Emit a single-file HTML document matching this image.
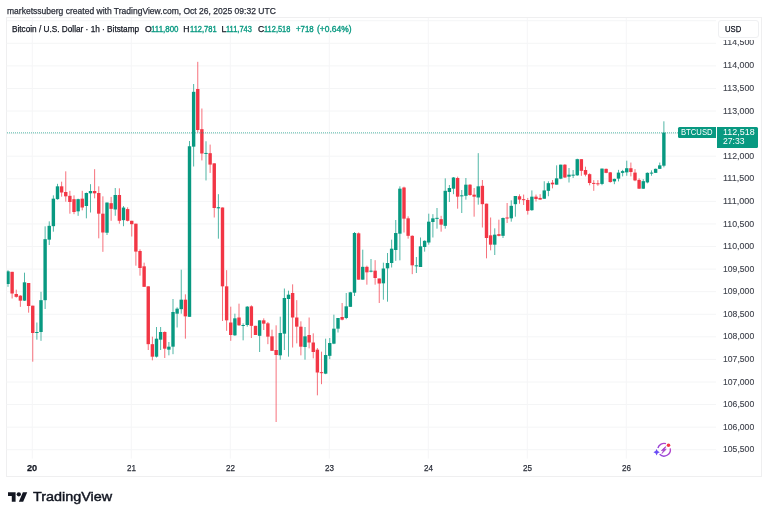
<!DOCTYPE html>
<html><head><meta charset="utf-8"><style>
html,body{margin:0;padding:0;background:#fff;}
body{will-change:transform;width:768px;height:517px;position:relative;overflow:hidden;font-family:"Liberation Sans",sans-serif;color:#131722;}
.t{position:absolute;white-space:nowrap;transform-origin:0 0;-webkit-text-stroke:0.25px currentColor;}
#frame{position:absolute;left:5.8px;top:17.2px;width:756.2px;height:460.3px;border:1px solid #efeff0;box-sizing:border-box;}
#usd{position:absolute;left:718.4px;top:20.4px;width:40.3px;height:17.9px;box-sizing:border-box;border:1px solid #eff0f2;border-radius:3px;background:#fff;}
#tag1{position:absolute;left:678px;top:127px;width:38px;height:11.25px;background:#089981;border-radius:1.5px 0 0 1.5px;}
#tag2{position:absolute;left:717px;top:127px;width:41px;height:20.75px;background:#089981;border-radius:0 1.5px 1.5px 0;}
</style></head><body>
<div id="frame"></div>
<svg width="768" height="517" style="position:absolute;left:0;top:0">
<defs><clipPath id="pane"><rect x="6.7" y="18" width="710" height="441"/></clipPath></defs><line x1="6.5" y1="449.74" x2="716" y2="449.74" stroke="#f4f5f6" stroke-width="1"/><line x1="6.5" y1="427.16" x2="716" y2="427.16" stroke="#f4f5f6" stroke-width="1"/><line x1="6.5" y1="404.58" x2="716" y2="404.58" stroke="#f4f5f6" stroke-width="1"/><line x1="6.5" y1="382.00" x2="716" y2="382.00" stroke="#f4f5f6" stroke-width="1"/><line x1="6.5" y1="359.42" x2="716" y2="359.42" stroke="#f4f5f6" stroke-width="1"/><line x1="6.5" y1="336.84" x2="716" y2="336.84" stroke="#f4f5f6" stroke-width="1"/><line x1="6.5" y1="314.26" x2="716" y2="314.26" stroke="#f4f5f6" stroke-width="1"/><line x1="6.5" y1="291.68" x2="716" y2="291.68" stroke="#f4f5f6" stroke-width="1"/><line x1="6.5" y1="269.10" x2="716" y2="269.10" stroke="#f4f5f6" stroke-width="1"/><line x1="6.5" y1="246.52" x2="716" y2="246.52" stroke="#f4f5f6" stroke-width="1"/><line x1="6.5" y1="223.94" x2="716" y2="223.94" stroke="#f4f5f6" stroke-width="1"/><line x1="6.5" y1="201.36" x2="716" y2="201.36" stroke="#f4f5f6" stroke-width="1"/><line x1="6.5" y1="178.78" x2="716" y2="178.78" stroke="#f4f5f6" stroke-width="1"/><line x1="6.5" y1="156.20" x2="716" y2="156.20" stroke="#f4f5f6" stroke-width="1"/><line x1="6.5" y1="133.62" x2="716" y2="133.62" stroke="#f4f5f6" stroke-width="1"/><line x1="6.5" y1="111.04" x2="716" y2="111.04" stroke="#f4f5f6" stroke-width="1"/><line x1="6.5" y1="88.46" x2="716" y2="88.46" stroke="#f4f5f6" stroke-width="1"/><line x1="6.5" y1="65.88" x2="716" y2="65.88" stroke="#f4f5f6" stroke-width="1"/><line x1="6.5" y1="43.30" x2="716" y2="43.30" stroke="#f4f5f6" stroke-width="1"/><line x1="6.5" y1="20.72" x2="716" y2="20.72" stroke="#f4f5f6" stroke-width="1"/><line x1="32.30" y1="18" x2="32.30" y2="458.6" stroke="#f5f6f7" stroke-width="1"/><line x1="131.30" y1="18" x2="131.30" y2="458.6" stroke="#f5f6f7" stroke-width="1"/><line x1="230.30" y1="18" x2="230.30" y2="458.6" stroke="#f5f6f7" stroke-width="1"/><line x1="329.30" y1="18" x2="329.30" y2="458.6" stroke="#f5f6f7" stroke-width="1"/><line x1="428.30" y1="18" x2="428.30" y2="458.6" stroke="#f5f6f7" stroke-width="1"/><line x1="527.30" y1="18" x2="527.30" y2="458.6" stroke="#f5f6f7" stroke-width="1"/><line x1="626.30" y1="18" x2="626.30" y2="458.6" stroke="#f5f6f7" stroke-width="1"/><g clip-path="url(#pane)"><rect x="7.50" y="270.17" width="1" height="16.67" fill="#089981" opacity="0.7"/><rect x="6.30" y="271.33" width="3.4" height="12.67" fill="#089981"/><rect x="11.62" y="271.83" width="1" height="26.67" fill="#f23645" opacity="0.7"/><rect x="10.42" y="271.83" width="3.4" height="21.67" fill="#f23645"/><rect x="15.75" y="289.67" width="1" height="8.00" fill="#f23645" opacity="0.7"/><rect x="14.55" y="294.00" width="3.4" height="2.83" fill="#f23645"/><rect x="19.87" y="295.17" width="1" height="11.67" fill="#f23645" opacity="0.7"/><rect x="18.67" y="295.67" width="3.4" height="5.00" fill="#f23645"/><rect x="24.00" y="272.67" width="1" height="28.33" fill="#089981" opacity="0.7"/><rect x="22.80" y="282.33" width="3.4" height="18.33" fill="#089981"/><rect x="28.12" y="283.00" width="1" height="29.67" fill="#f23645" opacity="0.7"/><rect x="26.92" y="283.00" width="3.4" height="23.00" fill="#f23645"/><rect x="32.25" y="305.67" width="1" height="56.00" fill="#f23645" opacity="0.7"/><rect x="31.05" y="305.67" width="3.4" height="27.33" fill="#f23645"/><rect x="36.38" y="322.50" width="1" height="17.17" fill="#089981" opacity="0.7"/><rect x="35.17" y="332.00" width="3.4" height="1.00" fill="#089981"/><rect x="40.50" y="291.83" width="1" height="49.00" fill="#089981" opacity="0.7"/><rect x="39.30" y="300.17" width="3.4" height="31.83" fill="#089981"/><rect x="44.62" y="226.33" width="1" height="82.67" fill="#089981" opacity="0.7"/><rect x="43.42" y="239.17" width="3.4" height="61.00" fill="#089981"/><rect x="48.75" y="221.33" width="1" height="23.67" fill="#089981" opacity="0.7"/><rect x="47.55" y="225.83" width="3.4" height="13.83" fill="#089981"/><rect x="52.88" y="195.33" width="1" height="36.33" fill="#089981" opacity="0.7"/><rect x="51.67" y="198.67" width="3.4" height="27.50" fill="#089981"/><rect x="57.00" y="183.83" width="1" height="15.83" fill="#089981" opacity="0.7"/><rect x="55.80" y="186.33" width="3.4" height="12.83" fill="#089981"/><rect x="61.12" y="181.67" width="1" height="15.00" fill="#f23645" opacity="0.7"/><rect x="59.92" y="186.33" width="3.4" height="6.17" fill="#f23645"/><rect x="65.25" y="171.33" width="1" height="30.33" fill="#f23645" opacity="0.7"/><rect x="64.05" y="192.00" width="3.4" height="4.33" fill="#f23645"/><rect x="69.38" y="190.83" width="1" height="22.83" fill="#f23645" opacity="0.7"/><rect x="68.17" y="195.83" width="3.4" height="6.17" fill="#f23645"/><rect x="73.50" y="195.33" width="1" height="18.83" fill="#f23645" opacity="0.7"/><rect x="72.30" y="199.17" width="3.4" height="12.83" fill="#f23645"/><rect x="77.62" y="198.67" width="1" height="17.17" fill="#089981" opacity="0.7"/><rect x="76.42" y="199.17" width="3.4" height="12.17" fill="#089981"/><rect x="81.75" y="190.83" width="1" height="19.50" fill="#f23645" opacity="0.7"/><rect x="80.55" y="198.67" width="3.4" height="8.83" fill="#f23645"/><rect x="85.88" y="192.50" width="1" height="25.83" fill="#089981" opacity="0.7"/><rect x="84.67" y="193.00" width="3.4" height="13.00" fill="#089981"/><rect x="90.00" y="184.17" width="1" height="28.33" fill="#089981" opacity="0.7"/><rect x="88.80" y="191.00" width="3.4" height="2.33" fill="#089981"/><rect x="94.12" y="169.17" width="1" height="29.17" fill="#f23645" opacity="0.7"/><rect x="92.92" y="191.00" width="3.4" height="2.33" fill="#f23645"/><rect x="98.25" y="186.33" width="1" height="52.00" fill="#f23645" opacity="0.7"/><rect x="97.05" y="193.00" width="3.4" height="20.67" fill="#f23645"/><rect x="102.38" y="196.33" width="1" height="55.50" fill="#f23645" opacity="0.7"/><rect x="101.17" y="213.67" width="3.4" height="18.83" fill="#f23645"/><rect x="106.50" y="202.50" width="1" height="32.50" fill="#089981" opacity="0.7"/><rect x="105.30" y="202.55" width="3.4" height="30.19" fill="#089981"/><rect x="110.62" y="196.89" width="1" height="23.90" fill="#f23645" opacity="0.7"/><rect x="109.42" y="203.18" width="3.4" height="5.66" fill="#f23645"/><rect x="114.75" y="188.00" width="1" height="27.75" fill="#089981" opacity="0.7"/><rect x="113.55" y="195.00" width="3.4" height="14.47" fill="#089981"/><rect x="118.88" y="188.33" width="1" height="35.35" fill="#f23645" opacity="0.7"/><rect x="117.67" y="195.00" width="3.4" height="25.79" fill="#f23645"/><rect x="123.00" y="206.07" width="1" height="20.13" fill="#089981" opacity="0.7"/><rect x="121.80" y="207.58" width="3.4" height="12.58" fill="#089981"/><rect x="127.12" y="207.33" width="1" height="14.09" fill="#f23645" opacity="0.7"/><rect x="125.92" y="209.09" width="3.4" height="11.70" fill="#f23645"/><rect x="131.25" y="220.79" width="1" height="15.72" fill="#f23645" opacity="0.7"/><rect x="130.05" y="220.79" width="3.4" height="3.40" fill="#f23645"/><rect x="135.38" y="223.68" width="1" height="41.99" fill="#f23645" opacity="0.7"/><rect x="134.18" y="223.68" width="3.4" height="27.92" fill="#f23645"/><rect x="139.50" y="249.33" width="1" height="26.33" fill="#f23645" opacity="0.7"/><rect x="138.30" y="251.00" width="3.4" height="17.00" fill="#f23645"/><rect x="143.62" y="262.67" width="1" height="24.17" fill="#f23645" opacity="0.7"/><rect x="142.43" y="266.33" width="3.4" height="20.50" fill="#f23645"/><rect x="147.75" y="286.33" width="1" height="63.67" fill="#f23645" opacity="0.7"/><rect x="146.55" y="286.33" width="3.4" height="57.83" fill="#f23645"/><rect x="151.88" y="336.67" width="1" height="23.67" fill="#f23645" opacity="0.7"/><rect x="150.68" y="344.17" width="3.4" height="12.50" fill="#f23645"/><rect x="156.00" y="327.00" width="1" height="30.50" fill="#089981" opacity="0.7"/><rect x="154.80" y="338.67" width="3.4" height="18.00" fill="#089981"/><rect x="160.12" y="327.00" width="1" height="23.00" fill="#089981" opacity="0.7"/><rect x="158.93" y="332.00" width="3.4" height="7.67" fill="#089981"/><rect x="164.25" y="331.33" width="1" height="26.67" fill="#f23645" opacity="0.7"/><rect x="163.05" y="332.00" width="3.4" height="16.67" fill="#f23645"/><rect x="168.38" y="342.00" width="1" height="13.33" fill="#089981" opacity="0.7"/><rect x="167.18" y="346.67" width="3.4" height="3.00" fill="#089981"/><rect x="172.50" y="299.00" width="1" height="55.17" fill="#089981" opacity="0.7"/><rect x="171.30" y="312.00" width="3.4" height="34.67" fill="#089981"/><rect x="176.62" y="307.33" width="1" height="20.17" fill="#089981" opacity="0.7"/><rect x="175.43" y="308.67" width="3.4" height="5.00" fill="#089981"/><rect x="180.75" y="269.67" width="1" height="44.00" fill="#089981" opacity="0.7"/><rect x="179.55" y="299.67" width="3.4" height="9.50" fill="#089981"/><rect x="184.88" y="294.33" width="1" height="44.33" fill="#f23645" opacity="0.7"/><rect x="183.68" y="299.67" width="3.4" height="16.67" fill="#f23645"/><rect x="189.00" y="141.00" width="1" height="175.83" fill="#089981" opacity="0.7"/><rect x="187.80" y="146.25" width="3.4" height="170.58" fill="#089981"/><rect x="193.12" y="84.00" width="1" height="82.50" fill="#089981" opacity="0.7"/><rect x="191.93" y="91.83" width="3.4" height="54.83" fill="#089981"/><rect x="197.25" y="61.83" width="1" height="70.67" fill="#f23645" opacity="0.7"/><rect x="196.05" y="89.00" width="3.4" height="41.00" fill="#f23645"/><rect x="201.38" y="108.50" width="1" height="51.92" fill="#f23645" opacity="0.7"/><rect x="200.18" y="129.17" width="3.4" height="24.33" fill="#f23645"/><rect x="205.50" y="141.25" width="1" height="39.17" fill="#089981" opacity="0.7"/><rect x="204.30" y="152.92" width="3.4" height="1.00" fill="#089981"/><rect x="209.62" y="144.58" width="1" height="28.33" fill="#f23645" opacity="0.7"/><rect x="208.43" y="153.17" width="3.4" height="11.42" fill="#f23645"/><rect x="213.75" y="163.33" width="1" height="54.17" fill="#f23645" opacity="0.7"/><rect x="212.55" y="163.33" width="3.4" height="44.67" fill="#f23645"/><rect x="217.88" y="194.17" width="1" height="44.50" fill="#089981" opacity="0.7"/><rect x="216.68" y="207.17" width="3.4" height="1.17" fill="#089981"/><rect x="222.00" y="207.50" width="1" height="113.50" fill="#f23645" opacity="0.7"/><rect x="220.80" y="207.50" width="3.4" height="78.83" fill="#f23645"/><rect x="226.12" y="270.17" width="1" height="60.67" fill="#f23645" opacity="0.7"/><rect x="224.93" y="286.33" width="3.4" height="34.00" fill="#f23645"/><rect x="230.25" y="306.67" width="1" height="34.17" fill="#f23645" opacity="0.7"/><rect x="229.05" y="322.50" width="3.4" height="12.50" fill="#f23645"/><rect x="234.38" y="313.67" width="1" height="22.17" fill="#089981" opacity="0.7"/><rect x="233.18" y="318.33" width="3.4" height="17.00" fill="#089981"/><rect x="238.50" y="303.67" width="1" height="22.17" fill="#f23645" opacity="0.7"/><rect x="237.30" y="317.50" width="3.4" height="7.83" fill="#f23645"/><rect x="242.62" y="323.33" width="1" height="17.00" fill="#089981" opacity="0.7"/><rect x="241.43" y="325.00" width="3.4" height="1.00" fill="#089981"/><rect x="246.75" y="306.00" width="1" height="20.67" fill="#089981" opacity="0.7"/><rect x="245.55" y="306.67" width="3.4" height="18.33" fill="#089981"/><rect x="250.88" y="305.33" width="1" height="32.67" fill="#f23645" opacity="0.7"/><rect x="249.68" y="306.33" width="3.4" height="19.50" fill="#f23645"/><rect x="255.00" y="325.83" width="1" height="9.17" fill="#f23645" opacity="0.7"/><rect x="253.80" y="325.83" width="3.4" height="9.17" fill="#f23645"/><rect x="259.12" y="320.33" width="1" height="31.67" fill="#089981" opacity="0.7"/><rect x="257.93" y="320.33" width="3.4" height="15.50" fill="#089981"/><rect x="263.25" y="318.33" width="1" height="11.67" fill="#f23645" opacity="0.7"/><rect x="262.05" y="320.33" width="3.4" height="3.33" fill="#f23645"/><rect x="267.38" y="322.00" width="1" height="22.17" fill="#f23645" opacity="0.7"/><rect x="266.18" y="323.33" width="3.4" height="13.33" fill="#f23645"/><rect x="271.50" y="329.67" width="1" height="21.17" fill="#f23645" opacity="0.7"/><rect x="270.30" y="336.33" width="3.4" height="14.50" fill="#f23645"/><rect x="275.62" y="325.33" width="1" height="96.67" fill="#f23645" opacity="0.7"/><rect x="274.43" y="350.00" width="3.4" height="5.00" fill="#f23645"/><rect x="279.75" y="316.67" width="1" height="43.00" fill="#089981" opacity="0.7"/><rect x="278.55" y="333.00" width="3.4" height="22.33" fill="#089981"/><rect x="283.88" y="288.50" width="1" height="61.50" fill="#089981" opacity="0.7"/><rect x="282.68" y="298.00" width="3.4" height="35.67" fill="#089981"/><rect x="288.00" y="290.67" width="1" height="66.00" fill="#089981" opacity="0.7"/><rect x="286.80" y="294.67" width="3.4" height="4.33" fill="#089981"/><rect x="292.12" y="284.33" width="1" height="63.17" fill="#f23645" opacity="0.7"/><rect x="290.93" y="293.00" width="3.4" height="24.50" fill="#f23645"/><rect x="296.25" y="300.17" width="1" height="43.17" fill="#f23645" opacity="0.7"/><rect x="295.05" y="317.50" width="3.4" height="9.17" fill="#f23645"/><rect x="300.38" y="321.33" width="1" height="34.00" fill="#f23645" opacity="0.7"/><rect x="299.18" y="326.67" width="3.4" height="20.00" fill="#f23645"/><rect x="304.50" y="327.00" width="1" height="32.67" fill="#089981" opacity="0.7"/><rect x="303.30" y="336.33" width="3.4" height="10.67" fill="#089981"/><rect x="308.62" y="317.50" width="1" height="30.83" fill="#f23645" opacity="0.7"/><rect x="307.43" y="335.00" width="3.4" height="7.50" fill="#f23645"/><rect x="312.75" y="333.33" width="1" height="25.00" fill="#f23645" opacity="0.7"/><rect x="311.55" y="342.50" width="3.4" height="9.50" fill="#f23645"/><rect x="316.88" y="348.00" width="1" height="47.33" fill="#f23645" opacity="0.7"/><rect x="315.68" y="349.67" width="3.4" height="22.83" fill="#f23645"/><rect x="321.00" y="351.67" width="1" height="32.50" fill="#f23645" opacity="0.7"/><rect x="319.80" y="372.17" width="3.4" height="1.00" fill="#f23645"/><rect x="325.12" y="338.67" width="1" height="35.50" fill="#089981" opacity="0.7"/><rect x="323.93" y="355.00" width="3.4" height="18.67" fill="#089981"/><rect x="329.25" y="338.00" width="1" height="21.17" fill="#089981" opacity="0.7"/><rect x="328.05" y="343.00" width="3.4" height="12.83" fill="#089981"/><rect x="333.38" y="314.67" width="1" height="29.50" fill="#089981" opacity="0.7"/><rect x="332.18" y="328.67" width="3.4" height="15.00" fill="#089981"/><rect x="337.50" y="318.00" width="1" height="14.50" fill="#089981" opacity="0.7"/><rect x="336.30" y="318.00" width="3.4" height="10.67" fill="#089981"/><rect x="341.62" y="303.00" width="1" height="17.33" fill="#f23645" opacity="0.7"/><rect x="340.43" y="317.00" width="3.4" height="2.67" fill="#f23645"/><rect x="345.75" y="293.00" width="1" height="26.17" fill="#089981" opacity="0.7"/><rect x="344.55" y="306.33" width="3.4" height="11.67" fill="#089981"/><rect x="349.88" y="291.83" width="1" height="15.00" fill="#089981" opacity="0.7"/><rect x="348.68" y="292.33" width="3.4" height="14.50" fill="#089981"/><rect x="354.00" y="232.00" width="1" height="64.00" fill="#089981" opacity="0.7"/><rect x="352.80" y="233.00" width="3.4" height="59.67" fill="#089981"/><rect x="358.12" y="232.50" width="1" height="47.17" fill="#f23645" opacity="0.7"/><rect x="356.93" y="233.33" width="3.4" height="46.33" fill="#f23645"/><rect x="362.25" y="249.67" width="1" height="30.00" fill="#089981" opacity="0.7"/><rect x="361.05" y="266.83" width="3.4" height="12.83" fill="#089981"/><rect x="366.38" y="265.67" width="1" height="19.00" fill="#f23645" opacity="0.7"/><rect x="365.18" y="266.83" width="3.4" height="5.50" fill="#f23645"/><rect x="370.50" y="259.00" width="1" height="13.33" fill="#089981" opacity="0.7"/><rect x="369.30" y="270.67" width="3.4" height="1.00" fill="#089981"/><rect x="374.62" y="260.17" width="1" height="24.50" fill="#f23645" opacity="0.7"/><rect x="373.43" y="270.67" width="3.4" height="7.33" fill="#f23645"/><rect x="378.75" y="278.50" width="1" height="24.50" fill="#f23645" opacity="0.7"/><rect x="377.55" y="278.50" width="3.4" height="5.00" fill="#f23645"/><rect x="382.88" y="262.67" width="1" height="37.00" fill="#089981" opacity="0.7"/><rect x="381.68" y="268.50" width="3.4" height="14.83" fill="#089981"/><rect x="387.00" y="253.00" width="1" height="48.67" fill="#089981" opacity="0.7"/><rect x="385.80" y="263.00" width="3.4" height="5.33" fill="#089981"/><rect x="391.12" y="239.67" width="1" height="27.83" fill="#089981" opacity="0.7"/><rect x="389.93" y="248.67" width="3.4" height="14.33" fill="#089981"/><rect x="395.25" y="220.00" width="1" height="40.83" fill="#089981" opacity="0.7"/><rect x="394.05" y="233.00" width="3.4" height="17.00" fill="#089981"/><rect x="399.38" y="186.33" width="1" height="74.00" fill="#089981" opacity="0.7"/><rect x="398.18" y="188.67" width="3.4" height="45.00" fill="#089981"/><rect x="403.50" y="186.67" width="1" height="45.83" fill="#f23645" opacity="0.7"/><rect x="402.30" y="187.50" width="3.4" height="31.17" fill="#f23645"/><rect x="407.62" y="216.33" width="1" height="22.33" fill="#f23645" opacity="0.7"/><rect x="406.43" y="218.33" width="3.4" height="17.50" fill="#f23645"/><rect x="411.75" y="235.33" width="1" height="38.83" fill="#f23645" opacity="0.7"/><rect x="410.55" y="235.83" width="3.4" height="29.50" fill="#f23645"/><rect x="415.88" y="257.00" width="1" height="16.00" fill="#089981" opacity="0.7"/><rect x="414.68" y="265.33" width="3.4" height="1.00" fill="#089981"/><rect x="420.00" y="237.50" width="1" height="29.50" fill="#089981" opacity="0.7"/><rect x="418.80" y="246.33" width="3.4" height="20.67" fill="#089981"/><rect x="424.12" y="240.33" width="1" height="11.33" fill="#089981" opacity="0.7"/><rect x="422.93" y="240.83" width="3.4" height="6.17" fill="#089981"/><rect x="428.25" y="213.67" width="1" height="31.00" fill="#089981" opacity="0.7"/><rect x="427.05" y="221.67" width="3.4" height="20.83" fill="#089981"/><rect x="432.38" y="214.17" width="1" height="23.33" fill="#089981" opacity="0.7"/><rect x="431.18" y="218.33" width="3.4" height="3.67" fill="#089981"/><rect x="436.50" y="208.00" width="1" height="20.67" fill="#089981" opacity="0.7"/><rect x="435.30" y="217.83" width="3.4" height="1.00" fill="#089981"/><rect x="440.62" y="215.83" width="1" height="15.83" fill="#f23645" opacity="0.7"/><rect x="439.43" y="219.17" width="3.4" height="5.50" fill="#f23645"/><rect x="444.75" y="178.33" width="1" height="50.33" fill="#089981" opacity="0.7"/><rect x="443.55" y="190.83" width="3.4" height="35.00" fill="#089981"/><rect x="448.88" y="185.00" width="1" height="17.00" fill="#089981" opacity="0.7"/><rect x="447.68" y="188.00" width="3.4" height="4.00" fill="#089981"/><rect x="453.00" y="177.00" width="1" height="17.17" fill="#089981" opacity="0.7"/><rect x="451.80" y="177.50" width="3.4" height="11.17" fill="#089981"/><rect x="457.12" y="176.67" width="1" height="32.00" fill="#f23645" opacity="0.7"/><rect x="455.93" y="178.00" width="3.4" height="18.67" fill="#f23645"/><rect x="461.25" y="190.00" width="1" height="23.00" fill="#089981" opacity="0.7"/><rect x="460.05" y="195.33" width="3.4" height="1.00" fill="#089981"/><rect x="465.38" y="178.00" width="1" height="21.67" fill="#089981" opacity="0.7"/><rect x="464.18" y="184.67" width="3.4" height="11.17" fill="#089981"/><rect x="469.50" y="184.17" width="1" height="11.67" fill="#f23645" opacity="0.7"/><rect x="468.30" y="184.67" width="3.4" height="10.33" fill="#f23645"/><rect x="473.62" y="188.00" width="1" height="28.67" fill="#f23645" opacity="0.7"/><rect x="472.43" y="194.67" width="3.4" height="2.00" fill="#f23645"/><rect x="477.75" y="153.16" width="1" height="51.51" fill="#089981" opacity="0.7"/><rect x="476.55" y="186.33" width="3.4" height="11.17" fill="#089981"/><rect x="481.88" y="180.00" width="1" height="47.50" fill="#f23645" opacity="0.7"/><rect x="480.68" y="185.83" width="3.4" height="18.33" fill="#f23645"/><rect x="486.00" y="203.67" width="1" height="54.67" fill="#f23645" opacity="0.7"/><rect x="484.80" y="203.67" width="3.4" height="34.33" fill="#f23645"/><rect x="490.12" y="217.50" width="1" height="32.83" fill="#f23645" opacity="0.7"/><rect x="488.93" y="235.33" width="3.4" height="9.33" fill="#f23645"/><rect x="494.25" y="228.33" width="1" height="26.67" fill="#089981" opacity="0.7"/><rect x="493.05" y="234.67" width="3.4" height="10.00" fill="#089981"/><rect x="498.38" y="219.67" width="1" height="16.67" fill="#f23645" opacity="0.7"/><rect x="497.18" y="234.17" width="3.4" height="1.67" fill="#f23645"/><rect x="502.50" y="217.50" width="1" height="20.50" fill="#089981" opacity="0.7"/><rect x="501.30" y="218.00" width="3.4" height="17.83" fill="#089981"/><rect x="506.62" y="203.00" width="1" height="20.00" fill="#f23645" opacity="0.7"/><rect x="505.43" y="217.50" width="3.4" height="1.00" fill="#f23645"/><rect x="510.75" y="200.33" width="1" height="21.33" fill="#089981" opacity="0.7"/><rect x="509.55" y="205.83" width="3.4" height="12.50" fill="#089981"/><rect x="514.88" y="196.00" width="1" height="20.67" fill="#089981" opacity="0.7"/><rect x="513.67" y="196.00" width="3.4" height="8.17" fill="#089981"/><rect x="519.00" y="194.33" width="1" height="9.42" fill="#f23645" opacity="0.7"/><rect x="517.80" y="196.25" width="3.4" height="3.33" fill="#f23645"/><rect x="523.12" y="194.58" width="1" height="10.42" fill="#f23645" opacity="0.7"/><rect x="521.92" y="199.17" width="3.4" height="1.00" fill="#f23645"/><rect x="527.25" y="197.92" width="1" height="16.67" fill="#f23645" opacity="0.7"/><rect x="526.05" y="200.00" width="3.4" height="10.83" fill="#f23645"/><rect x="531.38" y="190.42" width="1" height="20.42" fill="#089981" opacity="0.7"/><rect x="530.17" y="196.67" width="3.4" height="13.50" fill="#089981"/><rect x="535.50" y="194.58" width="1" height="6.92" fill="#f23645" opacity="0.7"/><rect x="534.30" y="196.67" width="3.4" height="2.33" fill="#f23645"/><rect x="539.62" y="194.17" width="1" height="5.42" fill="#f23645" opacity="0.7"/><rect x="538.42" y="197.92" width="3.4" height="1.67" fill="#f23645"/><rect x="543.75" y="181.25" width="1" height="17.50" fill="#089981" opacity="0.7"/><rect x="542.55" y="190.42" width="3.4" height="8.33" fill="#089981"/><rect x="547.88" y="181.25" width="1" height="15.00" fill="#089981" opacity="0.7"/><rect x="546.67" y="183.17" width="3.4" height="7.67" fill="#089981"/><rect x="552.00" y="180.00" width="1" height="8.33" fill="#f23645" opacity="0.7"/><rect x="550.80" y="182.67" width="3.4" height="1.67" fill="#f23645"/><rect x="556.12" y="165.33" width="1" height="19.33" fill="#089981" opacity="0.7"/><rect x="554.92" y="178.33" width="3.4" height="6.33" fill="#089981"/><rect x="560.25" y="164.67" width="1" height="14.50" fill="#089981" opacity="0.7"/><rect x="559.05" y="164.67" width="3.4" height="14.00" fill="#089981"/><rect x="564.38" y="164.17" width="1" height="13.83" fill="#f23645" opacity="0.7"/><rect x="563.17" y="164.67" width="3.4" height="12.83" fill="#f23645"/><rect x="568.50" y="168.00" width="1" height="14.50" fill="#089981" opacity="0.7"/><rect x="567.30" y="174.67" width="3.4" height="2.00" fill="#089981"/><rect x="572.62" y="170.00" width="1" height="8.00" fill="#089981" opacity="0.7"/><rect x="571.42" y="174.67" width="3.4" height="1.00" fill="#089981"/><rect x="576.75" y="158.67" width="1" height="17.17" fill="#089981" opacity="0.7"/><rect x="575.55" y="159.17" width="3.4" height="16.17" fill="#089981"/><rect x="580.88" y="159.17" width="1" height="16.67" fill="#f23645" opacity="0.7"/><rect x="579.67" y="159.17" width="3.4" height="11.67" fill="#f23645"/><rect x="585.00" y="166.67" width="1" height="9.67" fill="#f23645" opacity="0.7"/><rect x="583.80" y="170.00" width="3.4" height="4.67" fill="#f23645"/><rect x="589.12" y="173.33" width="1" height="12.00" fill="#f23645" opacity="0.7"/><rect x="587.92" y="174.17" width="3.4" height="8.83" fill="#f23645"/><rect x="593.25" y="180.15" width="1" height="10.68" fill="#f23645" opacity="0.7"/><rect x="592.05" y="182.91" width="3.4" height="1.00" fill="#f23645"/><rect x="597.38" y="180.15" width="1" height="5.65" fill="#f23645" opacity="0.7"/><rect x="596.17" y="183.29" width="3.4" height="1.00" fill="#f23645"/><rect x="601.50" y="168.59" width="1" height="16.58" fill="#089981" opacity="0.7"/><rect x="600.30" y="168.59" width="3.4" height="15.33" fill="#089981"/><rect x="605.62" y="168.59" width="1" height="4.65" fill="#f23645" opacity="0.7"/><rect x="604.42" y="168.84" width="3.4" height="4.02" fill="#f23645"/><rect x="609.75" y="171.98" width="1" height="10.68" fill="#f23645" opacity="0.7"/><rect x="608.55" y="172.36" width="3.4" height="9.67" fill="#f23645"/><rect x="613.88" y="178.64" width="1" height="5.53" fill="#089981" opacity="0.7"/><rect x="612.67" y="178.89" width="3.4" height="2.51" fill="#089981"/><rect x="618.00" y="169.85" width="1" height="11.56" fill="#089981" opacity="0.7"/><rect x="616.80" y="172.61" width="3.4" height="6.03" fill="#089981"/><rect x="622.12" y="169.85" width="1" height="6.53" fill="#089981" opacity="0.7"/><rect x="620.92" y="171.11" width="3.4" height="1.76" fill="#089981"/><rect x="626.25" y="160.68" width="1" height="15.08" fill="#089981" opacity="0.7"/><rect x="625.05" y="168.22" width="3.4" height="4.15" fill="#089981"/><rect x="630.38" y="162.56" width="1" height="13.82" fill="#f23645" opacity="0.7"/><rect x="629.17" y="168.22" width="3.4" height="3.77" fill="#f23645"/><rect x="634.50" y="169.10" width="1" height="12.06" fill="#f23645" opacity="0.7"/><rect x="633.30" y="172.61" width="3.4" height="7.79" fill="#f23645"/><rect x="638.62" y="178.27" width="1" height="10.68" fill="#f23645" opacity="0.7"/><rect x="637.42" y="179.90" width="3.4" height="8.79" fill="#f23645"/><rect x="642.75" y="179.15" width="1" height="9.80" fill="#089981" opacity="0.7"/><rect x="641.55" y="181.16" width="3.4" height="7.54" fill="#089981"/><rect x="646.88" y="172.36" width="1" height="10.93" fill="#089981" opacity="0.7"/><rect x="645.67" y="172.86" width="3.4" height="9.55" fill="#089981"/><rect x="651.00" y="170.35" width="1" height="5.40" fill="#089981" opacity="0.7"/><rect x="649.80" y="172.61" width="3.4" height="1.00" fill="#089981"/><rect x="655.12" y="168.59" width="1" height="4.27" fill="#089981" opacity="0.7"/><rect x="653.92" y="168.84" width="3.4" height="4.02" fill="#089981"/><rect x="659.25" y="162.56" width="1" height="6.28" fill="#089981" opacity="0.7"/><rect x="658.05" y="165.33" width="3.4" height="3.52" fill="#089981"/><rect x="663.38" y="121.31" width="1" height="46.03" fill="#089981" opacity="0.7"/><rect x="662.17" y="132.61" width="3.4" height="33.09" fill="#089981"/></g><line x1="7" y1="132.81" x2="678" y2="132.81" stroke="#089981" stroke-width="1.4" stroke-dasharray="1 1" opacity="0.45"/>
</svg>
<div class="t" style="left:6.90px;top:6.58px;font-size:9.0px;line-height:9.0px;font-weight:normal;color:#2a2e39;transform:scaleX(0.9466);">marketssuberg created with TradingView.com, Oct 26, 2025 09:32 UTC</div><div class="t" style="left:12.10px;top:24.62px;font-size:8.6px;line-height:8.6px;font-weight:normal;color:#131722;transform:scaleX(0.9574);">Bitcoin / U.S. Dollar · 1h · Bitstamp</div><div class="t" style="left:144.90px;top:24.62px;font-size:8.6px;line-height:8.6px;font-weight:normal;color:#131722;transform:scaleX(1.0000);">O</div><div class="t" style="left:151.30px;top:24.62px;font-size:8.6px;line-height:8.6px;font-weight:normal;color:#089981;transform:scaleX(0.9226);-webkit-text-stroke:0.35px currentColor;">111,800</div><div class="t" style="left:183.30px;top:24.62px;font-size:8.6px;line-height:8.6px;font-weight:normal;color:#131722;transform:scaleX(1.0000);">H</div><div class="t" style="left:189.60px;top:24.62px;font-size:8.6px;line-height:8.6px;font-weight:normal;color:#089981;transform:scaleX(0.8768);-webkit-text-stroke:0.35px currentColor;">112,781</div><div class="t" style="left:221.50px;top:24.62px;font-size:8.6px;line-height:8.6px;font-weight:normal;color:#131722;transform:scaleX(1.0000);">L</div><div class="t" style="left:226.40px;top:24.62px;font-size:8.6px;line-height:8.6px;font-weight:normal;color:#089981;transform:scaleX(0.8689);-webkit-text-stroke:0.35px currentColor;">111,743</div><div class="t" style="left:257.90px;top:24.62px;font-size:8.6px;line-height:8.6px;font-weight:normal;color:#131722;transform:scaleX(1.0000);">C</div><div class="t" style="left:263.70px;top:24.62px;font-size:8.6px;line-height:8.6px;font-weight:normal;color:#089981;transform:scaleX(0.8669);-webkit-text-stroke:0.35px currentColor;">112,518</div><div class="t" style="left:295.90px;top:24.62px;font-size:8.6px;line-height:8.6px;font-weight:normal;color:#089981;transform:scaleX(0.9139);-webkit-text-stroke:0.35px currentColor;">+718</div><div class="t" style="left:316.80px;top:24.62px;font-size:8.6px;line-height:8.6px;font-weight:normal;color:#089981;transform:scaleX(0.9849);-webkit-text-stroke:0.35px currentColor;">(+0.64%)</div><div class="t" style="left:723.00px;top:445.31px;font-size:8.9px;line-height:8.9px;font-weight:normal;color:#3f424c;transform:scaleX(0.9729);-webkit-text-stroke:0.12px currentColor;">105,500</div><div class="t" style="left:723.00px;top:422.73px;font-size:8.9px;line-height:8.9px;font-weight:normal;color:#3f424c;transform:scaleX(0.9729);-webkit-text-stroke:0.12px currentColor;">106,000</div><div class="t" style="left:723.00px;top:400.15px;font-size:8.9px;line-height:8.9px;font-weight:normal;color:#3f424c;transform:scaleX(0.9729);-webkit-text-stroke:0.12px currentColor;">106,500</div><div class="t" style="left:723.00px;top:377.57px;font-size:8.9px;line-height:8.9px;font-weight:normal;color:#3f424c;transform:scaleX(0.9729);-webkit-text-stroke:0.12px currentColor;">107,000</div><div class="t" style="left:723.00px;top:354.99px;font-size:8.9px;line-height:8.9px;font-weight:normal;color:#3f424c;transform:scaleX(0.9729);-webkit-text-stroke:0.12px currentColor;">107,500</div><div class="t" style="left:723.00px;top:332.41px;font-size:8.9px;line-height:8.9px;font-weight:normal;color:#3f424c;transform:scaleX(0.9729);-webkit-text-stroke:0.12px currentColor;">108,000</div><div class="t" style="left:723.00px;top:309.83px;font-size:8.9px;line-height:8.9px;font-weight:normal;color:#3f424c;transform:scaleX(0.9729);-webkit-text-stroke:0.12px currentColor;">108,500</div><div class="t" style="left:723.00px;top:287.25px;font-size:8.9px;line-height:8.9px;font-weight:normal;color:#3f424c;transform:scaleX(0.9729);-webkit-text-stroke:0.12px currentColor;">109,000</div><div class="t" style="left:723.00px;top:264.67px;font-size:8.9px;line-height:8.9px;font-weight:normal;color:#3f424c;transform:scaleX(0.9729);-webkit-text-stroke:0.12px currentColor;">109,500</div><div class="t" style="left:723.00px;top:242.09px;font-size:8.9px;line-height:8.9px;font-weight:normal;color:#3f424c;transform:scaleX(0.9932);-webkit-text-stroke:0.12px currentColor;">110,000</div><div class="t" style="left:723.00px;top:219.51px;font-size:8.9px;line-height:8.9px;font-weight:normal;color:#3f424c;transform:scaleX(0.9932);-webkit-text-stroke:0.12px currentColor;">110,500</div><div class="t" style="left:723.00px;top:196.93px;font-size:8.9px;line-height:8.9px;font-weight:normal;color:#3f424c;transform:scaleX(1.0147);-webkit-text-stroke:0.12px currentColor;">111,000</div><div class="t" style="left:723.00px;top:174.35px;font-size:8.9px;line-height:8.9px;font-weight:normal;color:#3f424c;transform:scaleX(1.0147);-webkit-text-stroke:0.12px currentColor;">111,500</div><div class="t" style="left:723.00px;top:151.77px;font-size:8.9px;line-height:8.9px;font-weight:normal;color:#3f424c;transform:scaleX(0.9932);-webkit-text-stroke:0.12px currentColor;">112,000</div><div class="t" style="left:723.00px;top:106.61px;font-size:8.9px;line-height:8.9px;font-weight:normal;color:#3f424c;transform:scaleX(0.9932);-webkit-text-stroke:0.12px currentColor;">113,000</div><div class="t" style="left:723.00px;top:84.03px;font-size:8.9px;line-height:8.9px;font-weight:normal;color:#3f424c;transform:scaleX(0.9932);-webkit-text-stroke:0.12px currentColor;">113,500</div><div class="t" style="left:723.00px;top:61.45px;font-size:8.9px;line-height:8.9px;font-weight:normal;color:#3f424c;transform:scaleX(0.9932);-webkit-text-stroke:0.12px currentColor;">114,000</div><div class="t" style="left:723.00px;top:38.07px;font-size:8.9px;line-height:8.9px;font-weight:normal;color:#3f424c;transform:scaleX(0.9932);-webkit-text-stroke:0.12px currentColor;">114,500</div><div class="t" style="left:27.20px;top:463.17px;font-size:9.6px;line-height:9.6px;font-weight:bold;color:#131722;transform:scaleX(0.9555);">20</div><div class="t" style="left:126.70px;top:463.17px;font-size:9.6px;line-height:9.6px;font-weight:normal;color:#2a2e39;transform:scaleX(0.8431);">21</div><div class="t" style="left:225.70px;top:463.17px;font-size:9.6px;line-height:9.6px;font-weight:normal;color:#2a2e39;transform:scaleX(0.8431);">22</div><div class="t" style="left:324.70px;top:463.17px;font-size:9.6px;line-height:9.6px;font-weight:normal;color:#2a2e39;transform:scaleX(0.8431);">23</div><div class="t" style="left:423.70px;top:463.17px;font-size:9.6px;line-height:9.6px;font-weight:normal;color:#2a2e39;transform:scaleX(0.8431);">24</div><div class="t" style="left:522.70px;top:463.17px;font-size:9.6px;line-height:9.6px;font-weight:normal;color:#2a2e39;transform:scaleX(0.8431);">25</div><div class="t" style="left:621.70px;top:463.17px;font-size:9.6px;line-height:9.6px;font-weight:normal;color:#2a2e39;transform:scaleX(0.8431);">26</div><div class="t" style="left:33.30px;top:489.96px;font-size:13.4px;line-height:13.4px;font-weight:normal;color:#131722;transform:scaleX(1.0735);-webkit-text-stroke:0.45px currentColor;">TradingView</div>
<div style="position:absolute;left:719px;top:37px;width:40px;height:3px;background:#fff"></div><div id="usd"></div>
<div class="t" style="left:725.00px;top:24.92px;font-size:8.6px;line-height:8.6px;font-weight:normal;color:#131722;transform:scaleX(0.8978);">USD</div>
<div id="tag1"></div>
<div id="tag2"></div>
<div class="t" style="left:681.40px;top:128.81px;font-size:8.2px;line-height:8.2px;font-weight:normal;color:#fff;transform:scaleX(0.9374);-webkit-text-stroke:0;">BTCUSD</div><div class="t" style="left:722.60px;top:127.72px;font-size:8.9px;line-height:8.9px;font-weight:normal;color:#fff;transform:scaleX(1.0122);-webkit-text-stroke:0;">112,518</div><div class="t" style="left:722.60px;top:136.97px;font-size:8.9px;line-height:8.9px;font-weight:normal;color:#fff;transform:scaleX(0.9723);-webkit-text-stroke:0;">27:33</div>
<svg width="768" height="517" style="position:absolute;left:0;top:0">
<g transform="translate(664,449.7)">
<defs><linearGradient id="rg" x1="0" y1="1" x2="1" y2="0"><stop offset="0" stop-color="#8f3fd9"/><stop offset="1" stop-color="#b845c9"/></linearGradient></defs>
<path d="M -6.1,-1.75 A 6.35 6.35 0 0 1 2.0,-6.03" fill="none" stroke="url(#rg)" stroke-width="1.35"/>
<path d="M 6.22,-1.28 A 6.35 6.35 0 0 1 -4.39,4.59" fill="none" stroke="url(#rg)" stroke-width="1.35"/>
<path d="M 1.3,-3.0 L -2.7,0.9 L -0.4,0.75 L -2.2,3.9 L 2.3,-0.5 L 0.2,-0.45 L 1.9,-2.9 Z" fill="#a23fca" stroke="#a23fca" stroke-width="0.6" stroke-linejoin="round"/>
<path d="M 0,-3.2 Q 0.6,-0.6 3.2,0 Q 0.6,0.6 0,3.2 Q -0.6,0.6 -3.2,0 Q -0.6,-0.6 0,-3.2 Z" fill="#6a4cf5" transform="translate(-7.4,2.6)"/>
<circle cx="4.5" cy="-4.4" r="1.8" fill="#f23645"/>
</g>
</svg>
<svg id="logo" width="19.5" height="15" viewBox="0 0 36 28" preserveAspectRatio="none" style="position:absolute;left:8px;top:489.6px;">
<path d="M14 22H7V11H0V4h14v18zM28 22h-8l7.5-18h8L28 22z" fill="#131722"/><circle cx="20" cy="8" r="4" fill="#131722"/>
</svg>
</body></html>
